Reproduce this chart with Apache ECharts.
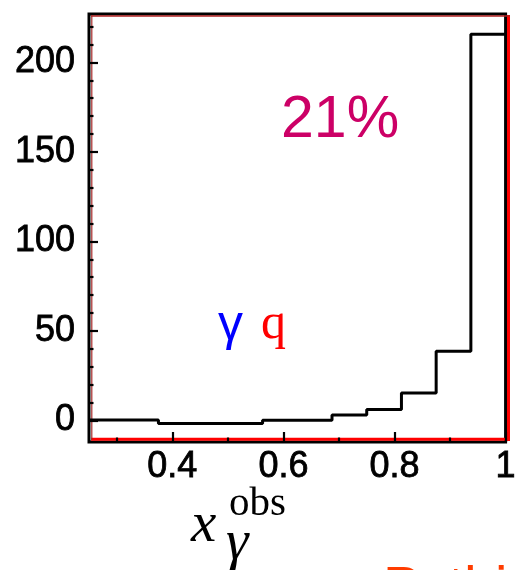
<!DOCTYPE html>
<html>
<head>
<meta charset="utf-8">
<script src="https://cdn.jsdelivr.net/npm/echarts@6/dist/echarts.min.js"></script>
<style>
  html, body { margin: 0; padding: 0; background: #ffffff; }
  #chart { width: 519px; height: 570px; }
</style>
</head>
<body>
<div id="chart"></div>
<script>
// Histogram of x_gamma^obs: bin edges and entries per bin
const binEdges = [0.25, 0.375, 0.5625, 0.6875, 0.75, 0.8125, 0.875, 0.9375, 1.0];
const binCounts = [0.3, -1.6, 0.2, 3.1, 6.1, 15.3, 38.7, 215.7];

// Axis tick positions and labels
const xMajorTicks = [0.4, 0.6, 0.8, 1.0];
const xMinorTicks = [0.3, 0.5, 0.7, 0.9];
const yMajorTicks = [0, 50, 100, 150, 200];
const yMinorTicks = [10, 20, 30, 40, 60, 70, 80, 90, 110, 120, 130, 140, 160, 170, 180, 190, 210, 220];

const xRange = [0.25, 1.0];
const yRange = [-12, 227];

// Step line points: each bin starts at its left edge, last point closes the final bin
const stepPoints = binEdges.slice(0, -1).map((e, i) => [e, binCounts[i]]);
stepPoints.push([binEdges[binEdges.length - 1], binCounts[binCounts.length - 1]]);

const labelFont = {
  fontFamily: 'Liberation Sans', fontSize: 36, color: '#000',
  textBorderColor: '#000', textBorderWidth: 0.8
};
const tickStyle = { color: '#000', width: 2.2 };

const chart = echarts.init(document.getElementById('chart'), null, { renderer: 'canvas' });

chart.setOption({
  backgroundColor: '#ffffff',
  animation: false,
  grid: {
    left: 89, right: 7, top: 14, bottom: 128,
    show: true, borderColor: '#000', borderWidth: 3, backgroundColor: '#ffffff'
  },
  xAxis: [
    {
      type: 'value', min: xRange[0], max: xRange[1], position: 'bottom', z: 5,
      axisLine: { show: false, onZero: false },
      splitLine: { show: false },
      axisTick: { inside: true, length: 10, customValues: xMajorTicks, lineStyle: tickStyle },
      axisLabel: Object.assign({ customValues: xMajorTicks, margin: 7 }, labelFont)
    },
    {
      type: 'value', min: xRange[0], max: xRange[1], position: 'bottom', offset: 0, z: 5,
      axisLine: { show: false, onZero: false },
      splitLine: { show: false },
      axisTick: { inside: true, length: 4.5, customValues: xMinorTicks, lineStyle: tickStyle },
      axisLabel: { show: false }
    }
  ],
  yAxis: [
    {
      type: 'value', min: yRange[0], max: yRange[1], position: 'left', z: 5,
      axisLine: { show: false, onZero: false },
      splitLine: { show: false },
      axisTick: { inside: true, length: 9, customValues: yMajorTicks, lineStyle: tickStyle },
      axisLabel: Object.assign({ customValues: yMajorTicks, margin: 14 }, labelFont)
    },
    {
      type: 'value', min: yRange[0], max: yRange[1], position: 'left', offset: 0, z: 5,
      axisLine: { show: false, onZero: false },
      splitLine: { show: false },
      axisTick: { inside: true, length: 4.5, customValues: yMinorTicks, lineStyle: tickStyle },
      axisLabel: { show: false }
    }
  ],
  series: [
    {
      type: 'line',
      xAxisIndex: 0, yAxisIndex: 0,
      step: 'end',
      data: stepPoints,
      symbol: 'none',
      clip: true,
      z: 10,
      lineStyle: { color: '#000', width: 3 }
    }
  ],
  graphic: [
    // inner red frame
    { type: 'line', z: 1, shape: { x1: 91, y1: 439.3, x2: 510, y2: 439.3 }, style: { stroke: '#ff0000', lineWidth: 3 } },
    { type: 'line', z: 1, shape: { x1: 508.5, y1: 15, x2: 508.5, y2: 441 }, style: { stroke: '#ff0000', lineWidth: 3 } },
    { type: 'line', z: 1, shape: { x1: 91, y1: 16, x2: 510, y2: 16 }, style: { stroke: '#b02222', lineWidth: 1.6 } },
    { type: 'line', z: 1, shape: { x1: 91.8, y1: 15, x2: 91.8, y2: 440 }, style: { stroke: '#a52a2a', lineWidth: 1.2 } },
    // annotations
    { type: 'text', z: 20, x: 281, y: 121,
      style: { text: '21%', fill: '#cc0066', font: '59px "Liberation Sans"', textAlign: 'left', textVerticalAlign: 'middle' } },
    { type: 'text', z: 20, x: 218, y: 326,
      style: { text: 'γ', fill: '#0000ff', font: '50px "Liberation Sans"', textAlign: 'left', textVerticalAlign: 'middle' } },
    { type: 'text', z: 20, x: 261, y: 325,
      style: { text: 'q', fill: '#ff0000', font: '50px "Liberation Serif"', textAlign: 'left', textVerticalAlign: 'middle' } },
    // axis title x_gamma^obs
    { type: 'text', z: 20, x: 191, y: 526,
      style: { text: 'x', fill: '#000', font: 'italic 57px "Liberation Serif"', textAlign: 'left', textVerticalAlign: 'middle' } },
    { type: 'text', z: 20, x: 229, y: 504,
      style: { text: 'obs', fill: '#000', font: '41px "Liberation Serif"', textAlign: 'left', textVerticalAlign: 'middle' } },
    { type: 'text', z: 20, x: 226, y: 544,
      style: { text: 'γ', fill: '#000', font: 'italic 57px "Liberation Serif"', textAlign: 'left', textVerticalAlign: 'middle' } },
    // generator tag at the lower right
    { type: 'text', z: 20, x: 383, y: 589.5,
      style: { text: 'Pythia', fill: '#ff3c00', font: '56px "Liberation Sans"', textAlign: 'left', textVerticalAlign: 'middle' } }
  ]
});
</script>
</body>
</html>
